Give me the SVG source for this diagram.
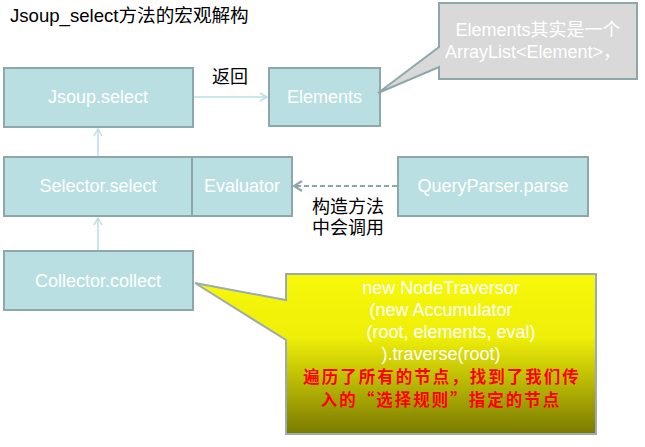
<svg xmlns="http://www.w3.org/2000/svg" width="645" height="447" viewBox="0 0 645 447">
<style>
.box{fill:#b9dfe2;stroke:#8ea8aa;stroke-width:2}
.bt{font-family:"Liberation Sans","Noto Sans CJK SC",Arial,sans-serif;font-size:18px;fill:#ffffff;text-anchor:middle}
.lbl{font-family:"Liberation Sans","Noto Sans CJK SC",sans-serif;font-size:18px;fill:#000000}
.red{font-family:"Noto Sans CJK SC","Liberation Sans",sans-serif;font-size:16.5px;letter-spacing:2px;font-weight:bold;fill:#ff0000;text-anchor:middle}
.lc{stroke:#b9dfe2;stroke-width:1.5;fill:none}
.dc{stroke:#8ea8aa;stroke-width:2;fill:none;stroke-dasharray:5 3}
</style>
<defs>
<marker id="ah" markerWidth="10" markerHeight="10" refX="8" refY="5" orient="auto" markerUnits="userSpaceOnUse">
<path d="M1,1 L8,5 L1,9" fill="none" stroke="#b9dfe2" stroke-width="1.5"/>
</marker>
<marker id="ahd" markerWidth="12" markerHeight="12" refX="10" refY="6" orient="auto" markerUnits="userSpaceOnUse">
<path d="M2,1 L10,6 L2,11" fill="none" stroke="#8ea8aa" stroke-width="2.2"/>
</marker>
<linearGradient id="yg" x1="0" y1="274" x2="0" y2="434" gradientUnits="userSpaceOnUse">
<stop offset="0" stop-color="#f8f80a"/>
<stop offset="0.4" stop-color="#eeee08"/>
<stop offset="1" stop-color="#7a7a00"/>
</linearGradient>
</defs>

<text class="lbl" x="10" y="22" style="font-size:18.6px">Jsoup_select方法的宏观解构</text>

<g id="connectors">
<line class="lc" x1="194" y1="97" x2="267" y2="97" marker-end="url(#ah)"/>
<line class="lc" x1="98" y1="156" x2="98" y2="129" marker-end="url(#ah)"/>
<line class="lc" x1="98" y1="250" x2="98" y2="218" marker-end="url(#ah)"/>
<line class="dc" x1="397" y1="186" x2="294" y2="186" marker-end="url(#ahd)"/>
<text class="lbl" x="212" y="83">返回</text>
<text class="lbl" x="312" y="213">构造方法</text>
<text class="lbl" x="312" y="234">中会调用</text>
</g>

<g id="jsoup-select">
<rect class="box" x="4" y="68" width="189" height="59"/>
<text class="bt" x="98" y="103">Jsoup.select</text>
</g>
<g id="elements">
<rect class="box" x="269" y="68" width="111" height="58"/>
<text class="bt" x="324.5" y="103">Elements</text>
</g>
<g id="elements-note">
<path d="M439,3 H637 V79 H439 V67 L378,93 L439,47 Z" fill="#d9d9d9" stroke="#8ea8aa" stroke-width="2"/>
<text class="bt" x="538" y="36">Elements其实是一个</text>
<text class="bt" x="533" y="58">ArrayList&lt;Element&gt;，</text>
</g>
<g id="selector-select">
<rect class="box" x="4" y="157" width="188" height="59"/>
<text class="bt" x="98" y="192">Selector.select</text>
</g>
<g id="evaluator">
<rect class="box" x="192" y="157" width="100" height="59"/>
<text class="bt" x="242" y="192">Evaluator</text>
</g>
<g id="queryparser-parse">
<rect class="box" x="398" y="157" width="190" height="59"/>
<text class="bt" x="493" y="192">QueryParser.parse</text>
</g>
<g id="collector-collect">
<rect class="box" x="4" y="251" width="189" height="59"/>
<text class="bt" x="98" y="287">Collector.collect</text>
</g>
<g id="traversor-note">
<path d="M286,274 H596 V434 H286 V340 L195,283 L286,300 Z" fill="url(#yg)" stroke="#9aacb0" stroke-width="2"/>
<text class="bt" x="441" y="294">new NodeTraversor</text>
<text class="bt" x="441" y="316">(new Accumulator</text>
<text class="bt" x="451" y="338">(root, elements, eval)</text>
<text class="bt" x="441" y="360">).traverse(root)</text>
<text class="red" x="442" y="383">遍历了所有的节点，找到了我们传</text>
<text class="red" x="441" y="406">入的“选择规则”指定的节点</text>
</g>
</svg>
